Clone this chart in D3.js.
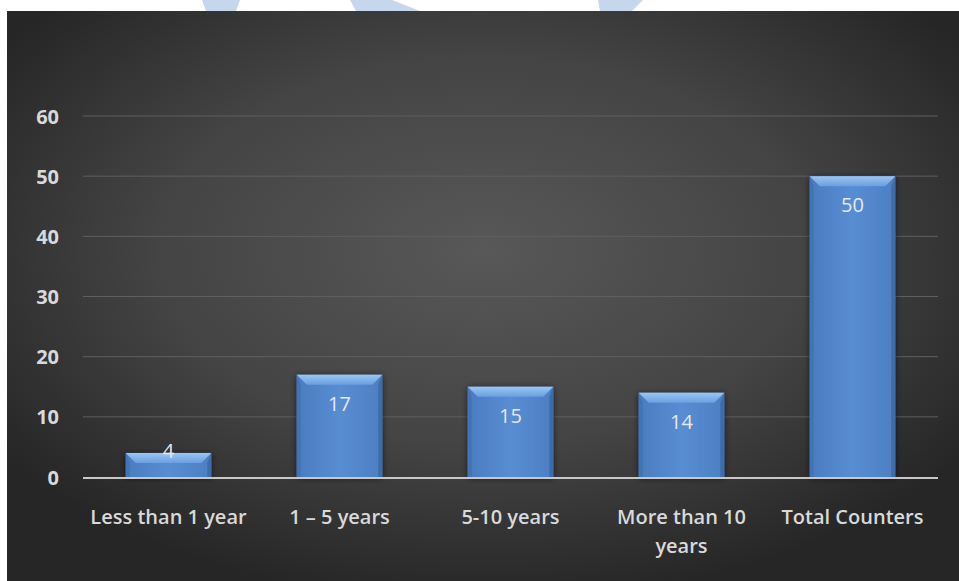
<!DOCTYPE html>
<html>
<head>
<meta charset="utf-8">
<script src="https://cdn.jsdelivr.net/npm/d3@7"></script>
<style>
  html, body { margin: 0; padding: 0; background: #ffffff; }
  svg { display: block; }
</style>
</head>
<body>
<div id="chart"></div>
<script>
// ---- data ----
const categories = ["Less than 1 year", "1 \u2013 5 years", "5-10 years", "More than 10 years", "Total Counters"];
const categoryLines = [["Less than 1 year"], ["1 \u2013 5 years"], ["5-10 years"], ["More than 10", "years"], ["Total Counters"]];
const values = [4, 17, 15, 14, 50];
const yTicks = [0, 10, 20, 30, 40, 50, 60];

// ---- layout ----
const W = 959, H = 581;
const panel = { x: 7, y: 11, w: 952, h: 570 };
const plot = { left: 83, right: 938, top: 116, bottom: 477 };
const FONT = "'Open Sans', Lato, 'DejaVu Sans', sans-serif";

const svg = d3.select("#chart").append("svg").attr("width", W).attr("height", H);
const defs = svg.append("defs");

// background radial gradient
const bg = defs.append("radialGradient").attr("id", "bgGrad")
  .attr("cx", "50%").attr("cy", "42%").attr("r", "62%");
bg.append("stop").attr("offset", "0%").attr("stop-color", "#585858");
bg.append("stop").attr("offset", "55%").attr("stop-color", "#444444");
bg.append("stop").attr("offset", "100%").attr("stop-color", "#262626");

// bar face gradient
const face = defs.append("linearGradient").attr("id", "faceGrad").attr("x1", 0).attr("x2", 1).attr("y1", 0).attr("y2", 0);
face.append("stop").attr("offset", "0%").attr("stop-color", "#4a7cbf");
face.append("stop").attr("offset", "50%").attr("stop-color", "#588dd2");
face.append("stop").attr("offset", "100%").attr("stop-color", "#4c7fc2");

const topBev = defs.append("linearGradient").attr("id", "topGrad").attr("x1", 0).attr("x2", 0).attr("y1", 0).attr("y2", 1);
topBev.append("stop").attr("offset", "0%").attr("stop-color", "#9cc6f2");
topBev.append("stop").attr("offset", "100%").attr("stop-color", "#6a9fe0");

const shadow = defs.append("filter").attr("id", "barShadow").attr("x", "-20%").attr("y", "-20%").attr("width", "140%").attr("height", "140%");
shadow.append("feGaussianBlur").attr("in", "SourceAlpha").attr("stdDeviation", 3).attr("result", "b");
shadow.append("feOffset").attr("in", "b").attr("dx", 0).attr("dy", 1).attr("result", "o");
shadow.append("feComponentTransfer").attr("in", "o").attr("result", "s")
  .append("feFuncA").attr("type", "linear").attr("slope", 0.6);
const merge = shadow.append("feMerge");
merge.append("feMergeNode").attr("in", "s");
merge.append("feMergeNode").attr("in", "SourceGraphic");

// watermark fragments visible in top white margin
const wm = svg.append("g").attr("fill", "#c6d6ec");
const wmShapes = [
  [[202, 0], [240, 0], [236, 11], [206, 11]],
  [[350, 0], [392, 0], [420, 11], [356, 11]],
  [[598, 0], [643, 0], [632, 11], [600, 11]]
];
wmShapes.forEach(p => wm.append("polygon").attr("points", p.map(d => d.join(",")).join(" ")));

// panel
svg.append("rect").attr("x", panel.x).attr("y", panel.y).attr("width", panel.w).attr("height", panel.h)
  .attr("fill", "url(#bgGrad)");

// scales
const x = d3.scaleBand().domain(categories).range([plot.left, plot.right]).paddingInner(0.5).paddingOuter(0.25);
const y = d3.scaleLinear().domain([0, 60]).range([plot.bottom, plot.top]);

// gridlines
svg.append("g").selectAll("line").data(yTicks.filter(t => t > 0)).join("line")
  .attr("x1", plot.left).attr("x2", plot.right)
  .attr("y1", d => y(d)).attr("y2", d => y(d))
  .attr("stroke", "#5f5f5f").attr("stroke-width", 1);

// y axis labels via d3 axis
const yAxis = svg.append("g").attr("transform", `translate(${plot.left - 24},0)`)
  .call(d3.axisLeft(y).tickValues(yTicks).tickSize(0).tickPadding(0));
yAxis.select(".domain").remove();
yAxis.selectAll("text").attr("fill", "#d9d9d9").attr("font-family", FONT)
  .attr("font-size", 20).attr("font-weight", "bold").attr("dy", "0.35em");

// bars
const bev = 10;
const bars = svg.append("g").selectAll("g").data(values).join("g").attr("filter", "url(#barShadow)");
bars.each(function(v, i) {
  const g = d3.select(this);
  const x0 = x(categories[i]), x1 = x0 + x.bandwidth();
  const y0 = y(v), y1 = y(0);
  const b = Math.min(bev, (y1 - y0) / 2);
  g.append("rect").attr("x", x0).attr("y", y0).attr("width", x1 - x0).attr("height", y1 - y0).attr("fill", "url(#faceGrad)");
  // left bevel
  g.append("polygon").attr("points", [[x0, y0], [x0 + 4, y0 + b], [x0 + 4, y1], [x0, y1]].map(p => p.join(",")).join(" "))
    .attr("fill", "#4273b3");
  // right bevel
  g.append("polygon").attr("points", [[x1, y0], [x1 - 4, y0 + b], [x1 - 4, y1], [x1, y1]].map(p => p.join(",")).join(" "))
    .attr("fill", "#3d6cab");
  // top bevel
  g.append("polygon").attr("points", [[x0, y0], [x1, y0], [x1 - b, y0 + b], [x0 + b, y0 + b]].map(p => p.join(",")).join(" "))
    .attr("fill", "url(#topGrad)");
});

// data labels
svg.append("g").selectAll("text").data(values).join("text")
  .attr("x", (d, i) => x(categories[i]) + x.bandwidth() / 2)
  .attr("y", d => (y(0) - y(d) > 40) ? y(d) + 36 : y(d) + 5)
  .attr("text-anchor", "middle")
  .attr("fill", "#e4e8f0").attr("font-family", FONT).attr("font-size", 20)
  .text(d => d);

// x axis baseline
svg.append("line").attr("x1", plot.left).attr("x2", plot.right)
  .attr("y1", y(0) + 1).attr("y2", y(0) + 1)
  .attr("stroke", "#c8c8c8").attr("stroke-width", 2);

// category labels
const xl = svg.append("g").selectAll("text").data(categoryLines).join("text")
  .attr("x", (d, i) => x(categories[i]) + x.bandwidth() / 2)
  .attr("y", 524)
  .attr("text-anchor", "middle")
  .attr("fill", "#d9d9d9").attr("font-family", FONT).attr("font-size", 20).attr("font-weight", 600);
xl.each(function(lines) {
  const t = d3.select(this);
  lines.forEach((l, j) => t.append("tspan").attr("x", t.attr("x")).attr("dy", j === 0 ? 0 : 29).text(l));
});
</script>
</body>
</html>
